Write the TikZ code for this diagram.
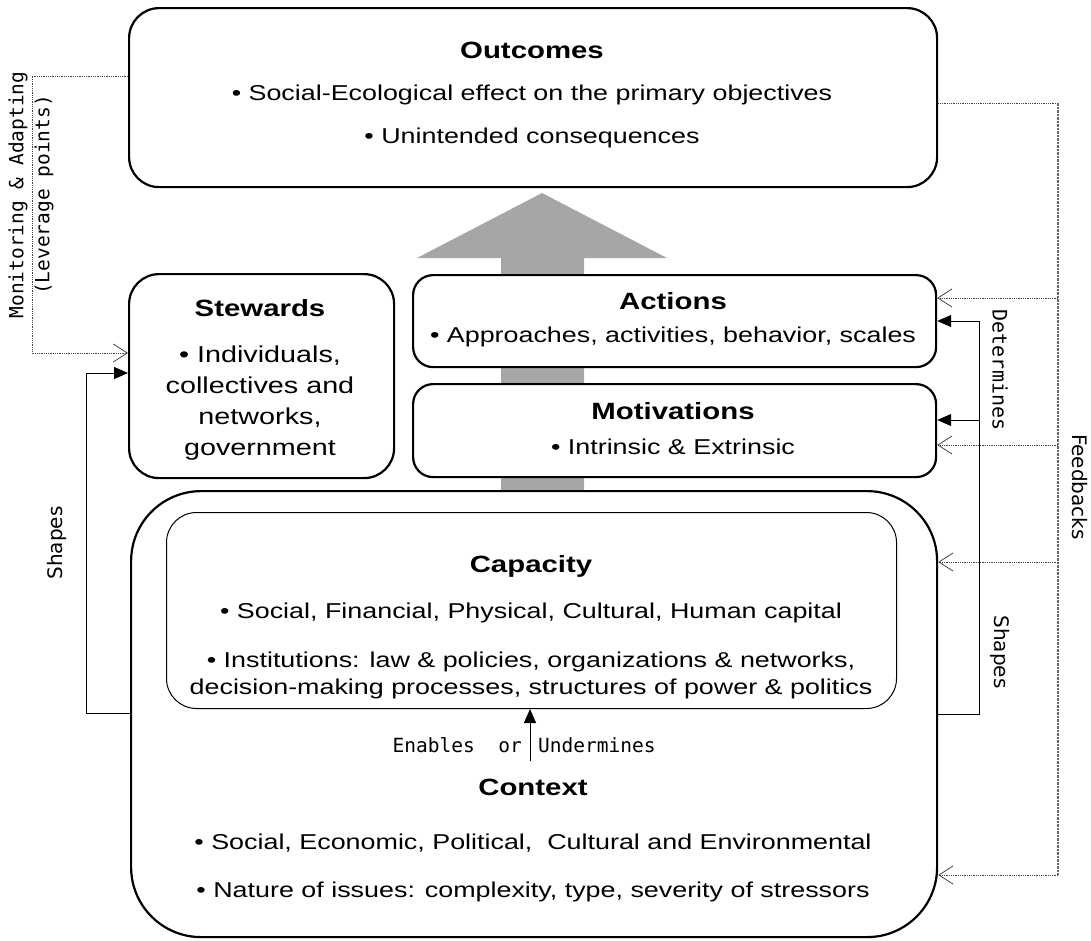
\documentclass[tikz,border=0pt]{standalone}
\usepackage{fontspec}
\setmainfont{Liberation Sans}[FakeStretch=1.25]
\newfontfamily\monofont{DejaVu Sans Mono}
\newfontfamily\labelfont{DejaVu Sans}
\usetikzlibrary{arrows.meta,positioning}

\definecolor{arrowgray}{HTML}{A6A6A6}
\definecolor{dotgray}{HTML}{444444}

\tikzset{
  bigbox/.style={draw, line width=2.2pt, rounded corners=#1, fill=white,
    inner sep=0pt, anchor=north west},
  thinbox/.style={draw, line width=1pt, rounded corners=#1, fill=white,
    inner sep=0pt, anchor=north west},
  boxtitle/.style={font=\fontsize{23.5}{28}\selectfont\bfseries, inner sep=0pt},
  body/.style={font=\fontsize{21.5}{27}\selectfont, inner sep=0pt, align=center},
  monolabel/.style={font=\monofont\fontsize{19.5}{26}\selectfont, inner sep=0pt, align=center},
  sidelabel/.style={font=\labelfont\fontsize{20}{24}\selectfont, inner sep=0pt},
  dotline/.style={densely dotted, line width=0.8pt, draw=dotgray},
  fbbus/.style={dash pattern=on 2.5pt off 1pt, line width=1.4pt, draw=dotgray!80},
  plainline/.style={line width=1pt},
  opentip/.style={-{Straight Barb[length=14pt,width=18pt,line width=0.8pt]}},
  filltip/.style={-{Triangle[length=14pt,width=12pt]}}
}

\begin{document}
\begin{tikzpicture}[x=1pt,y=-1pt]
    \useasboundingbox (0,0) rectangle (1091,940);

    % the wide grey arrow behind actions and motivations
    \fill[arrowgray] (501,490) -- (501,258) -- (417,258) -- (542,193)
      -- (667,258) -- (584,258) -- (584,490) -- cycle;

    % boxes
    \node[bigbox=30pt, minimum width=808pt, minimum height=179pt] (outcomes) at (128,7) {};
    \node[bigbox=30pt, minimum width=265pt, minimum height=204pt] (stewards) at (128,273) {};
    \node[bigbox=20pt, minimum width=523pt, minimum height=92pt] (actions) at (412,274) {};
    \node[bigbox=20pt, minimum width=523pt, minimum height=93pt] (motivations) at (412,383) {};
    \node[bigbox=70pt, minimum width=806pt, minimum height=446pt] (context) at (130,490) {};
    \node[thinbox=30pt, minimum width=730pt, minimum height=196pt] (capacity) at (166,512) {};

    % outcomes text
    \node[boxtitle] (outtitle) at (532,50) {Outcomes};
    \node[body] (outone) at (532,95) {• Social-Ecological effect on the primary objectives};
    \node[body] (outtwo) at (532,138) {• Unintended consequences};

    % stewards text
    \node[boxtitle] (stetitle) at (260,308) {Stewards};
    \node[body, font=\fontsize{23}{31}\selectfont] (stebody) at (260,403)
      {• Individuals,\\collectives and\\networks,\\government};

    % actions and motivations text
    \node[boxtitle] (acttitle) at (673,301) {Actions};
    \node[body] (actbody) at (673,337) {• Approaches, activities, behavior, scales};
    \node[boxtitle] (mottitle) at (673,411) {Motivations};
    \node[body] (motbody) at (673,447) {• Intrinsic \& Extrinsic};

    % capacity text
    \node[boxtitle] (captitle) at (531,566) {Capacity};
    \node[body] (capone) at (531,613) {• Social, Financial, Physical, Cultural, Human capital};
    \node[body] (captwo) at (531,675)
      {• Institutions: law \& policies, organizations \& networks,\\
       decision-making processes, structures of power \& politics};

    % context text
    \node[boxtitle] (ctxtitle) at (533,787) {Context};
    \node[body] (ctxone) at (533,843) {• Social, Economic, Political,\ \ Cultural and Environmental};
    \node[body] (ctxtwo) at (533,892) {• Nature of issues: complexity, type, severity of stressors};

    % context acts on capacity
    \coordinate (enab) at (530,761);
    \draw[plainline, filltip] (enab) -- (enab |- capacity.south);
    \node[monolabel, anchor=east] (enabtext) at (522,745) {Enables\ \ or};
    \node[monolabel, anchor=west] (undtext) at (538,745) {Undermines};

    % left side: monitoring and shaping of stewards
    \draw[dotline, opentip] (outcomes.west |- 0,76) -- ++(-96,0) |- (stewards.west |- 0,353);
    \draw[plainline, filltip] (context.west |- 0,713) -- ++(-44,0) |- (stewards.west |- 0,373);
    \node[monolabel, rotate=90] (montext) at (31,195) {Monitoring \& Adapting\\(Leverage points)};
    \node[sidelabel, rotate=90] (leftshapes) at (57,543) {Shapes};

    % right side: context determines actions and motivations
    \coordinate (detbus) at (979,321);
    \draw[plainline, filltip] (context.east |- 0,714) -| (detbus) -- (actions.east |- detbus);
    \draw[plainline, filltip] (detbus |- 0,420) -- (motivations.east |- 0,420);
    \node[sidelabel, rotate=-90] (dettext) at (1000,370) {\monofont Determines};
    \node[sidelabel, rotate=-90] (rightshapes) at (1000,652) {Shapes};

    % feedbacks from outcomes
    \coordinate (fbtop) at (1058,103);
    \coordinate (fbbot) at (1058,875);
    \draw[dotline] (outcomes.east |- fbtop) -- (fbtop);
    \draw[fbbus] (fbtop) -- (fbbot);
    \draw[dotline, opentip] (fbbot) -- (context.east |- fbbot);
    \foreach \y/\target in {298/actions, 445/motivations, 562/context}
      \draw[dotline, opentip] (fbtop |- 0,\y) -- (\target.east |- 0,\y);
    \node[sidelabel, rotate=-90] (fbtext) at (1080,487) {Feedbacks};
\end{tikzpicture}
\end{document}
